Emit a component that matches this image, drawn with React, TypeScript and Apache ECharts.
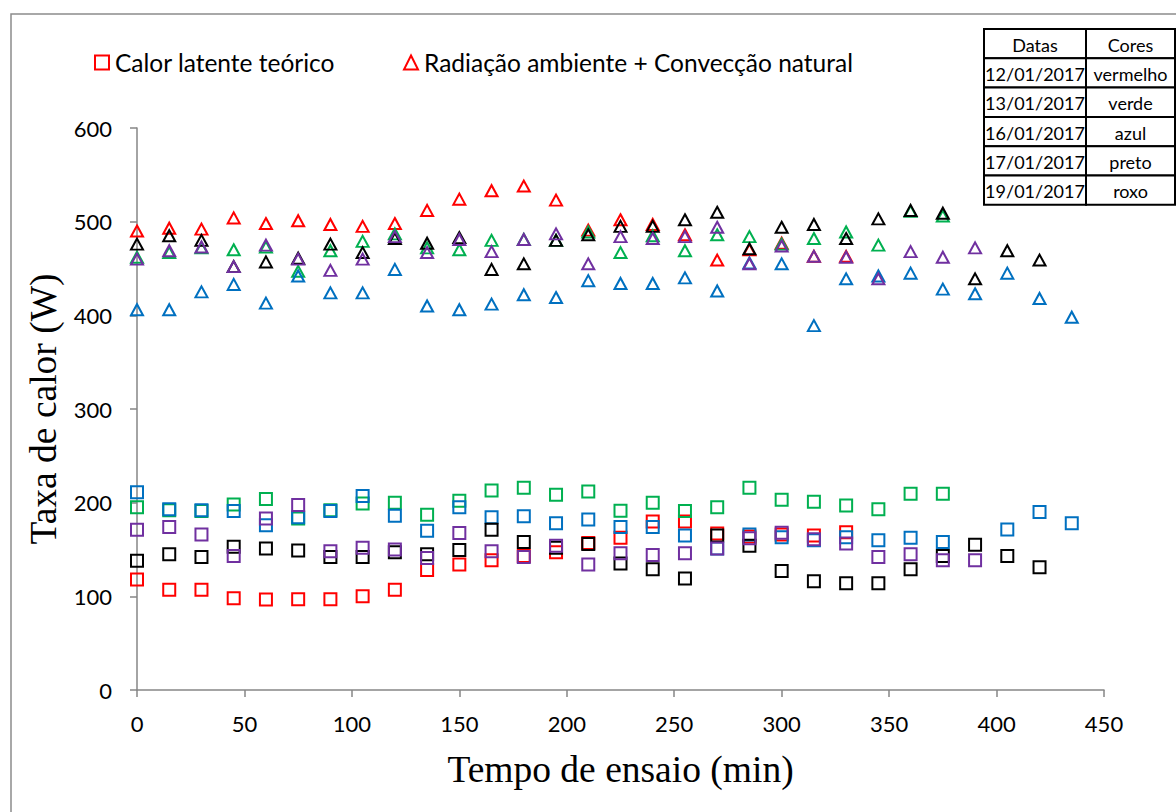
import React, { useEffect, useRef } from "react";
import * as echarts from "echarts";

// Test time (min), one reading every 15 minutes
const tempo = [0, 15, 30, 45, 60, 75, 90, 105, 120, 135, 150, 165, 180, 195, 210, 225, 240, 255, 270, 285, 300, 315, 330, 345, 360, 375, 390, 405, 420, 435];

// Radiação ambiente + Convecção natural (W), per test day
const radVermelho = [490, 493, 492, 504, 498, 501, 497, 495, 498, 512, 524, 533, 538, 523, 491, 502, 497, 486, 459, 470, 477, 463, 463];
const radVerde = [462, 467, 472, 470, 473, 447, 469, 479, 487, 472, 470, 480, 481, 480, 489, 467, 485, 469, 486, 484, 476, 482, 489, 475, 511, 506];
const radAzul = [406, 406, 425, 433, 413, 442, 424, 424, 449, 410, 406, 412, 422, 419, 437, 434, 434, 440, 426, 456, 455, 389, 439, 442, 445, 428, 423, 445, 418, 398];
const radPreto = [476, 485, 480, 452, 457, 461, 476, 467, 482, 477, 483, 449, 455, 480, 486, 495, 495, 502, 510, 471, 494, 497, 482, 503, 512, 509, 439, 469, 459];
const radRoxo = [460, 469, 473, 452, 475, 460, 448, 460, 484, 467, 481, 468, 481, 487, 455, 484, 482, 484, 494, 455, 474, 463, 462, 439, 468, 462, 472];

// Calor latente teórico (W), per test day
const latVermelho = [118, 107, 107, 98, 96.5, 97, 97, 100, 107, 128, 134, 138.5, 143, 147, 157, 162.5, 180, 180, 167, 164, 166, 165, 168.5];
const latVerde = [195, 192, 191, 198, 204, 183, 192, 199, 200, 187, 202, 213, 216, 208.5, 212, 191.5, 200, 191, 195, 216, 203, 201, 197, 193, 209.5, 209.5];
const latAzul = [211, 193, 192, 191, 176, 184.5, 191, 207, 186, 170, 195, 184.5, 185.5, 178, 182, 174, 174, 165, 151, 166, 163, 160, 163, 160, 162.5, 158, null, 171.4, 190, 178];
const latPreto = [138, 145, 142, 153, 151, 149, 142, 142, 147, 145, 149.5, 171, 158, 152, 156, 135, 129, 119, 165, 154, 127, 116, 114, 114, 129, 143, 155, 143, 131];
const latRoxo = [171, 174, 166, 143, 183, 197.5, 148, 152, 150, 141, 167.5, 148, 142, 154, 134, 146, 144, 146, 151, 162, 168, 161, 156.5, 142, 145, 138.5, 138.5];

// Legend table: test dates and their marker colours
const tabelaCabecalho = ["Datas", "Cores"];
const datas = ["12/01/2017", "13/01/2017", "16/01/2017", "17/01/2017", "19/01/2017"];
const nomesCores = ["vermelho", "verde", "azul", "preto", "roxo"];

const LEGENDA_LATENTE = "Calor latente teórico";
const LEGENDA_RAD = "Radiação ambiente + Convecção natural";

const COR = {
  vermelho: "#FF0000",
  verde: "#00B050",
  azul: "#0070C0",
  preto: "#000000",
  roxo: "#7030A0",
};

const UI_FONT = "Lato, 'Open Sans', sans-serif";
const SERIF = "'Liberation Serif', 'DejaVu Serif', serif";

function pares(vals: (number | null)[]) {
  const out: [number, number][] = [];
  vals.forEach((v, i) => {
    if (v !== null && v !== undefined) out.push([tempo[i], v]);
  });
  return out;
}

function serie(name: string, vals: (number | null)[], cor: string, forma: "rect" | "triangle") {
  return {
    name,
    type: "scatter",
    data: pares(vals),
    symbol: forma,
    symbolSize: forma === "rect" ? 12 : [12, 11],
    itemStyle: { color: "rgba(0,0,0,0)", borderColor: cor, borderWidth: 2, opacity: 1 },
    emphasis: { disabled: true },
  };
}

function tabelaGraphic() {
  const x0 = 984;
  const y0 = 29;
  const w1 = 102;
  const w2 = 89;
  const h = 29.3;
  const els: any[] = [];
  const linhas = [tabelaCabecalho, ...datas.map((d, i) => [d, nomesCores[i]])];
  linhas.forEach((linha, r) => {
    const y = y0 + r * h;
    [0, 1].forEach((c) => {
      const x = c === 0 ? x0 : x0 + w1;
      const w = c === 0 ? w1 : w2;
      els.push({
        type: "rect",
        shape: { x, y, width: w, height: h },
        style: { fill: "#fff", stroke: "#000", lineWidth: 2 },
        z: 10,
      });
      els.push({
        type: "text",
        x: x + w / 2,
        y: y + h / 2 + 1,
        style: {
          text: linha[c],
          fill: "#000",
          font: `18px ${UI_FONT}`,
          align: "center",
          verticalAlign: "middle",
        },
        z: 11,
      });
    });
  });
  return els;
}

export default function App() {
  const ref = useRef<HTMLDivElement>(null);

  useEffect(() => {
    if (!ref.current) return;
    const chart = echarts.init(ref.current, null, { renderer: "svg" });
    const axisLineColor = "#868686";
    chart.setOption({
      animation: false,
      backgroundColor: "#fff",
      legend: {
        data: [LEGENDA_LATENTE, LEGENDA_RAD],
        left: 89,
        top: 45,
        itemWidth: 14,
        itemHeight: 14,
        itemGap: 68,
        selectedMode: false,
        textStyle: { fontFamily: UI_FONT, fontSize: 24.5, color: "#000", padding: [0, 0, 0, 1] },
      },
      grid: { left: 137, top: 128, right: 72, bottom: 122, containLabel: false },
      xAxis: {
        type: "value",
        min: 0,
        max: 450,
        interval: 50,
        name: "Tempo de ensaio (min)",
        nameLocation: "middle",
        nameGap: 60,
        nameTextStyle: { fontFamily: SERIF, fontSize: 37.5, color: "#000" },
        axisLine: { show: true, lineStyle: { color: axisLineColor, width: 1.5 } },
        axisTick: { show: true, inside: false, length: 7, lineStyle: { color: axisLineColor, width: 1.5 } },
        axisLabel: { fontFamily: UI_FONT, fontSize: 22, color: "#000", margin: 22 },
        splitLine: { show: false },
      },
      yAxis: {
        type: "value",
        min: 0,
        max: 600,
        interval: 100,
        name: "Taxa de calor (W)",
        nameLocation: "middle",
        nameGap: 72,
        nameTextStyle: { fontFamily: SERIF, fontSize: 37.5, color: "#000" },
        axisLine: { show: true, lineStyle: { color: axisLineColor, width: 1.5 } },
        axisTick: { show: true, inside: false, length: 7, lineStyle: { color: axisLineColor, width: 1.5 } },
        axisLabel: { fontFamily: UI_FONT, fontSize: 22, color: "#000", margin: 25 },
        splitLine: { show: false },
      },
      graphic: [
        {
          type: "rect",
          shape: { x: 11, y: 14, width: 1175, height: 815 },
          style: { fill: "none", stroke: "#8c8c8c", lineWidth: 1.5 },
          z: 1,
          silent: true,
        },
        ...tabelaGraphic(),
      ],
      series: [
        serie(LEGENDA_LATENTE, latVermelho, COR.vermelho, "rect"),
        serie("Calor latente 13/01/2017", latVerde, COR.verde, "rect"),
        serie("Calor latente 16/01/2017", latAzul, COR.azul, "rect"),
        serie("Calor latente 17/01/2017", latPreto, COR.preto, "rect"),
        serie("Calor latente 19/01/2017", latRoxo, COR.roxo, "rect"),
        serie(LEGENDA_RAD, radVermelho, COR.vermelho, "triangle"),
        serie("Radiação + convecção 13/01/2017", radVerde, COR.verde, "triangle"),
        serie("Radiação + convecção 16/01/2017", radAzul, COR.azul, "triangle"),
        serie("Radiação + convecção 17/01/2017", radPreto, COR.preto, "triangle"),
        serie("Radiação + convecção 19/01/2017", radRoxo, COR.roxo, "triangle"),
      ],
    });
    return () => chart.dispose();
  }, []);

  return (
    <div
      ref={ref}
      style={{ position: "absolute", left: 0, top: 0, width: 1176, height: 812 }}
    />
  );
}
